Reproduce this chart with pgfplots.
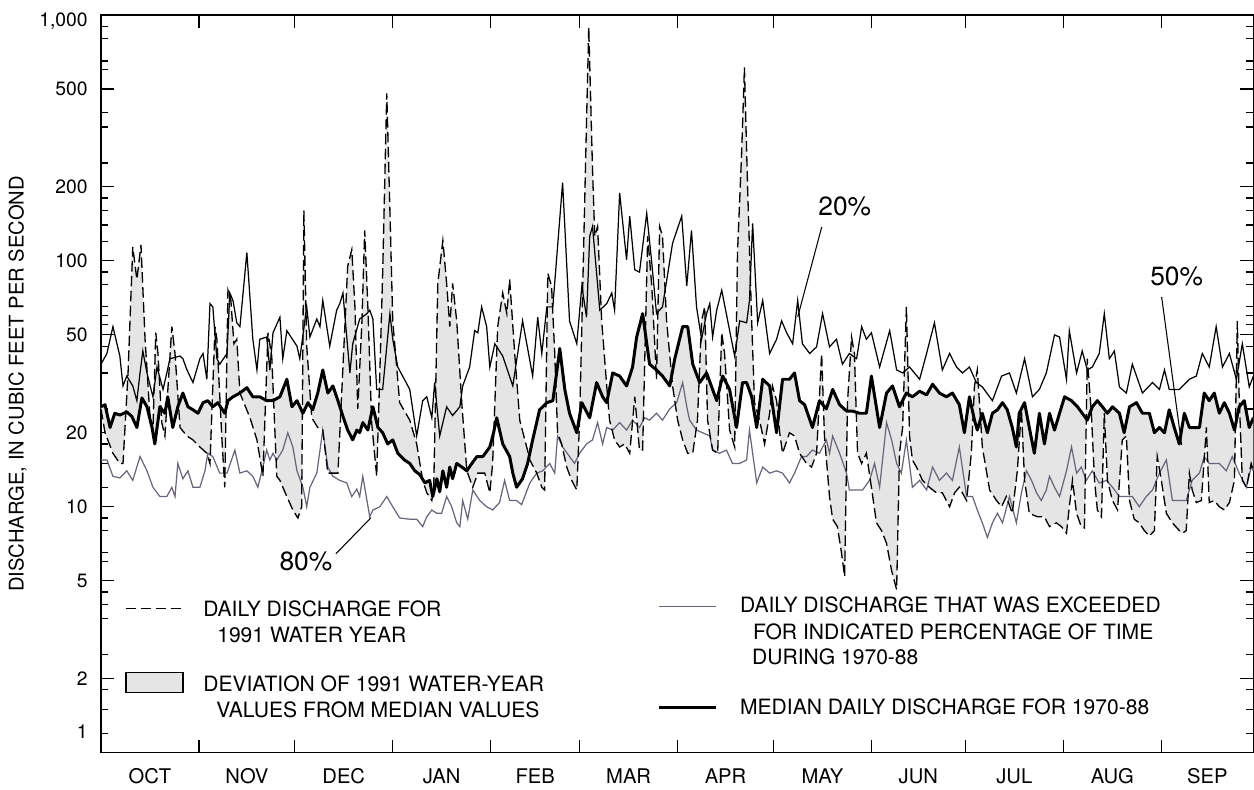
\documentclass[border=0pt]{standalone}
\usepackage{fontspec}
\setmainfont{TeX Gyre Heros}
\usepackage{pgfplots}
\usepackage{pgfplotstable}
\pgfplotsset{compat=1.18}
\definecolor{fillgray}{RGB}{229,229,229}
\definecolor{pctgray}{RGB}{108,100,122}

% day of water year (Oct 1 = 0), discharge in ft3/s
% 80 percent exceedance, 1970-88
\pgfplotstableread[row sep=\\]{
day q\\
0 15.5\\ 1.9 15.5\\ 3.8 13.3\\ 6 13.1\\ 8.2 14\\ 10.1 12.8\\ 12.4 16\\ 14.6 14\\ 16.5 12\\ 18.7 11\\
20.9 11\\ 22.5 12\\ 23.5 11\\ 24.4 15\\ 26 13\\ 27.6 14\\ 29.2 12\\ 31.4 12\\ 33 14\\ 33.9 16.5\\
35.5 16\\ 37.7 13.7\\ 40 13.7\\ 42.5 17\\ 44.1 13.7\\ 46.3 14\\ 48.2 13.3\\ 49.8 12\\ 51.4 14.5\\ 52.6 17\\
53.6 15.5\\ 54.6 16.5\\ 55.8 15.5\\ 57.7 17\\ 59.3 20\\ 60.9 17.5\\ 62.2 14\\ 64.1 12\\ 65.3 10\\ 66.3 12\\
68.5 13.7\\ 70.4 20.5\\ 72 14.5\\ 73.6 13.3\\ 75.8 12.8\\ 78 12.5\\ 79.6 11\\ 81.2 11.8\\ 82.1 11\\ 83.1 13.3\\
85.3 9.1\\ 86.3 9.7\\ 88.5 10\\ 90.7 11\\ 92.6 10\\ 94.8 9\\ 98 8.9\\ 100.2 8.9\\ 102.1 8.3\\ 103.4 9.1\\
105 9.7\\ 106.6 9.4\\ 108.1 9.4\\ 109.7 11\\ 111.3 10\\ 112.9 8.6\\ 113.9 8.3\\ 114.8 10.6\\ 116.4 8.9\\ 118 11.7\\
120.2 10.6\\ 122.4 10\\ 124.3 9.7\\ 126.5 10.4\\ 128.1 12.8\\ 129.7 10.6\\ 131.9 10.6\\ 133.5 10.2\\ 136.1 12.5\\ 138.3 13.7\\
140.2 14\\ 142.4 15\\ 144 13.7\\ 144.9 19.4\\ 146.5 17.5\\ 148.7 16\\ 150.3 15\\ 151.9 16.5\\ 154.1 18\\ 156 18.7\\
157.6 22\\ 159.2 18\\ 160.5 21\\ 162.4 20.5\\ 164.6 22\\ 166.8 20.5\\ 168.7 22.5\\ 170.9 21\\ 172.5 23\\ 174.1 22.5\\
176.3 24\\ 178.2 22.5\\ 180.5 25\\ 182.7 26.5\\ 184.6 32\\ 185.9 25.5\\ 186.8 22.5\\ 189 20.5\\ 190.9 20\\ 193.2 19.4\\
194.1 17\\ 196.3 16.5\\ 198.5 17\\ 200.4 15\\ 202.7 15\\ 204.9 15.5\\ 205.8 20.5\\ 208.1 12.5\\ 210 14.5\\ 212.2 13.7\\
214.4 14\\ 216.3 13.7\\ 218.5 12.5\\ 220.1 13.7\\ 222.3 16\\ 223.9 16\\ 225.8 17\\ 228 16.5\\ 230.2 18.7\\ 231.2 16.5\\
232.2 19.4\\ 234.4 16.5\\ 236.6 13.7\\ 237.5 11.7\\ 239.8 11.7\\ 241.7 11.7\\ 243.9 12.8\\ 245.5 15\\ 247.1 12\\ 249.3 22\\
250.9 18.7\\ 252.5 15\\ 254 13.7\\ 255.6 18.7\\ 257.5 12\\ 259.8 12.8\\ 262 11.7\\ 263.9 14.5\\ 266.1 12.8\\ 268.3 13.7\\
270.2 12.8\\ 272.4 17.5\\ 274.7 11\\ 276.6 11\\ 278.1 9.7\\ 279.7 8.6\\ 281.3 7.5\\ 282.9 8.6\\ 284.5 9.4\\ 286.1 8.6\\
288.3 11\\ 290.5 8.6\\ 292.1 11.4\\ 293.7 14\\ 295.3 12.8\\ 296.9 11.4\\ 298.4 10.6\\ 300 11.7\\ 301 13.3\\ 302.6 12\\
304.2 11\\ 306.4 14\\ 308 17.5\\ 309.6 13.7\\ 311.1 14.5\\ 312.7 12.8\\ 314.6 14\\ 316.8 12.5\\ 319.1 12.8\\ 321 12\\
323.2 11\\ 325.4 11\\ 327.3 11\\ 329.5 10\\ 331.7 11\\ 333.7 11.7\\ 335.9 13.7\\ 338.1 15.5\\ 340 10.6\\ 342.2 10.6\\
344.4 10.6\\ 346.3 12.8\\ 348.6 13.7\\ 350.1 16\\ 351.7 15\\ 354.9 15\\ 357.1 14\\ 359 16\\ 361.2 13.7\\ 363.5 12\\
365 14.5\\ 365.7 14\\
}\eighty

% 20 percent exceedance, 1970-88
\pgfplotstableread[row sep=\\]{
day q\\
0 38\\ 1.9 42\\ 2.9 48\\ 3.8 54\\ 6 41\\ 7 31\\ 8.2 34\\ 10.1 31\\ 11.4 27\\ 12.4 35\\
13.3 43\\ 14.6 35\\ 16.5 28\\ 17.8 37\\ 19.7 30\\ 20.9 35\\ 21.9 40\\ 25.1 41\\ 26 40\\ 27.3 36\\
29.2 32\\ 31.4 40\\ 32.4 42\\ 33.6 33\\ 34.6 67\\ 35.5 65\\ 36.8 40\\ 37.7 38\\ 40 42\\ 40.9 74\\
41.9 69\\ 43.1 56\\ 44.1 54\\ 46.3 108\\ 48.2 48\\ 49.5 36\\ 50.4 48\\ 52.6 49\\ 53.6 36\\ 54.6 51\\
56.8 59\\ 57.7 40\\ 59 52\\ 62.2 45\\ 63.1 40\\ 65.3 65\\ 66.3 49\\ 68.5 58\\ 69.5 54\\ 70.4 69\\
72.6 45\\ 74.8 63\\ 75.8 67\\ 76.8 74\\ 78 49\\ 79 35\\ 79.9 46\\ 82.1 58\\ 84.4 61\\ 85.3 63\\
86.3 58\\ 87.5 30\\ 89.4 30\\ 91.7 61\\ 92.6 48\\ 94.2 37\\ 98 30\\ 100.2 19.4\\ 102.1 27\\ 103.4 28\\
105 23\\ 105.9 32\\ 107.5 19.4\\ 109.7 25.5\\ 111.6 23.5\\ 113.9 25.5\\ 114.8 31\\ 117 37\\ 118.6 52\\ 119.6 51\\
120.8 65\\ 122.4 54\\ 123.4 37\\ 125 46\\ 127.5 41\\ 130.7 31\\ 133.8 57\\ 137 34\\ 138.6 59\\ 139.9 42\\
141.5 65\\ 143.4 65\\ 146.5 208\\ 148.7 57\\ 151 46\\ 152.6 79\\ 154.1 59\\ 155.1 126\\ 156 138\\ 158.3 63\\
160.5 67\\ 162.1 74\\ 163 63\\ 164.6 189\\ 166.8 101\\ 167.8 152\\ 169.4 92\\ 170.9 90\\ 173.2 156\\ 174.8 98\\
176.3 61\\ 178.2 65\\ 181.4 118\\ 184.3 152\\ 185.9 79\\ 187.4 133\\ 189 65\\ 190.6 48\\ 192.2 61\\ 193.2 67\\
194.1 49\\ 195.4 63\\ 197 76\\ 198.9 57\\ 201.1 41\\ 202.7 57\\ 204.9 56\\ 205.8 69\\ 206.8 142\\ 208.4 56\\
210 69\\ 212.2 42\\ 214.4 48\\ 216 57\\ 217.6 51\\ 219.5 46\\ 221.1 69\\ 222.6 46\\ 224.9 42\\ 227.1 44.7\\
229 61\\ 231.2 44.7\\ 233.4 48\\ 235.3 38\\ 237.5 42\\ 239.8 40\\ 241.4 54\\ 242.9 48\\ 244.5 51\\ 247.1 37\\
250.3 52\\ 252.5 36\\ 254.4 35\\ 256.6 37\\ 259.8 33\\ 262 42\\ 264.5 56\\ 267 36\\ 269.3 42\\ 271.5 37\\
273.4 35\\ 275.6 37\\ 277.8 32\\ 279.7 30.7\\ 282.9 27\\ 285.8 34\\ 288.3 35\\ 290.5 29\\ 293.1 40\\ 295.6 28\\
297.8 30\\ 300 35\\ 302.6 50\\ 304.2 49\\ 306.4 33\\ 307.3 52\\ 309.6 35\\ 311.4 43\\ 313 36\\ 314.6 37\\
316.8 42\\ 318.4 61\\ 320 40\\ 321.6 43\\ 323.2 30.7\\ 325.4 29\\ 327.3 38\\ 330.5 29\\ 333.7 32\\ 335.9 30\\
337.5 36\\ 339 30\\ 342.2 30\\ 345.4 33\\ 347.6 34\\ 349.5 42\\ 351.7 37\\ 353.9 54\\ 355.9 37\\ 358.1 42\\
360.3 33\\ 362.2 46\\ 364.4 30.7\\ 365.7 34\\
}\twenty

% daily discharge, 1991 water year
\pgfplotstableread[row sep=\\]{
day q\\
0 25\\ 1.3 20\\ 3.8 16.5\\ 6 15\\ 7 15\\ 8.6 35\\ 10.1 114\\ 11.4 84\\ 12.7 116\\ 14 48\\
15.5 24\\ 16.5 20.5\\ 17.4 51\\ 18.1 42\\ 19.3 22\\ 20.3 19.4\\ 22.5 54\\ 23.5 42\\ 25.1 21\\ 27.3 19.4\\
29.2 18.7\\ 31.4 17.5\\ 33.6 16.5\\ 34.6 15\\ 36.2 54\\ 36.8 48\\ 38.4 18.7\\ 39.3 12\\ 40.3 76\\ 41.2 70\\
42.2 46\\ 43.1 48\\ 44.1 29\\ 47.3 23\\ 49.5 18.7\\ 51.4 13.3\\ 53 51\\ 54.2 41\\ 55.8 13.3\\ 56.8 12.8\\
59 11\\ 60.9 9.7\\ 62.5 9\\ 63.7 10\\ 64.4 160\\ 65.3 45\\ 66.9 23\\ 68.8 21\\ 70.4 20.5\\ 72 13.7\\
73.6 13.7\\ 75.2 13.7\\ 77.4 54\\ 78.3 95\\ 79.6 111\\ 80.6 65\\ 81.5 25\\ 82.8 56\\ 83.7 133\\ 84.7 65\\
85.9 22\\ 87.5 13.3\\ 88.5 35\\ 89.4 89\\ 90.7 480\\ 91.7 160\\ 92.6 57\\ 94.8 26.5\\ 98 22.5\\ 100.2 18\\
102.1 12.8\\ 103.4 11.4\\ 105 10.6\\ 105.6 12\\ 106.9 81\\ 108.5 121\\ 109.7 81\\ 110.7 54\\ 111.6 81\\ 112.9 57\\
114.5 26.5\\ 116.1 14\\ 118 12\\ 119.6 13.7\\ 121.8 13.7\\ 123.4 11.4\\ 124.3 15\\ 125.9 54\\ 127.5 74\\ 128.8 61\\
129.7 84\\ 131.3 42\\ 132.9 22.5\\ 135.1 17.5\\ 136.1 15.5\\ 138.3 13.7\\ 139.9 12\\ 140.8 11.7\\ 141.8 89\\ 143 79\\
144 42\\ 144.9 20\\ 146.2 18\\ 147.8 14.5\\ 149.4 12.8\\ 151 11.7\\ 151.9 22.5\\ 152.9 79\\ 154.1 373\\ 154.8 890\\
156 234\\ 156.7 126\\ 157.6 138\\ 158.9 57\\ 160.5 31\\ 161.4 22.5\\ 163 18.7\\ 164.6 17.5\\ 166.2 18\\ 167.8 16.5\\
169.4 28\\ 170.9 17\\ 171.9 17\\ 173.5 126\\ 174.8 79\\ 176.3 33\\ 177.3 138\\ 178.2 126\\ 179.5 57\\ 181.4 31\\
183 22.5\\ 184.6 18.7\\ 186.2 16.5\\ 187.8 16.5\\ 189.3 22.5\\ 190.6 57\\ 191.6 65\\ 192.5 22.5\\ 194.1 17\\ 195.7 16.5\\
197 51\\ 197.9 42\\ 199.5 20.5\\ 201.1 17.5\\ 202 108\\ 203.3 272\\ 204.2 612\\ 205.2 200\\ 206.5 57\\ 207.4 26.5\\
209 22.5\\ 210.6 18\\ 212.2 24\\ 213.1 31\\ 214.4 27\\ 215.4 20\\ 216.3 16.5\\ 218.5 20\\ 220.1 19.4\\ 221.7 16.5\\
223.9 15\\ 225.5 14.5\\ 227.1 16.5\\ 228.7 42\\ 229.6 19.4\\ 231.2 11\\ 232.2 8.9\\ 233.7 8.3\\ 235 6.5\\ 236 5.2\\
236.9 26.5\\ 238.2 49\\ 239.1 42\\ 240.1 16.5\\ 241.4 15\\ 242.9 16.5\\ 244.5 12\\ 246.1 8.6\\ 247.7 8\\ 249.3 7.1\\
250.9 5.5\\ 252.5 4.6\\ 253.4 16.5\\ 254.4 21\\ 255.6 65\\ 256.6 19.4\\ 257.5 15.5\\ 258.8 14.5\\ 260.7 12.8\\ 262.9 12\\
265.1 11.4\\ 267 11.4\\ 269.3 10\\ 270.9 11.4\\ 272.4 12\\ 274.7 10.6\\ 276.2 16.5\\ 277.2 31\\ 278.1 36\\ 279.7 17.5\\
282 11.7\\ 284.2 10.6\\ 285.8 10\\ 287.3 11\\ 289.2 9.4\\ 290.8 14\\ 292.1 24.8\\ 293.1 12.8\\ 294.6 9.4\\ 297.2 9.1\\
299.4 9.1\\ 301 8.3\\ 303.2 8.6\\ 304.8 8.3\\ 306.4 7.8\\ 307.3 10\\ 308.3 12.8\\ 309.6 9.4\\ 311.1 8.3\\ 312.1 8.2\\
313 40\\ 314.3 24\\ 315.3 12.8\\ 316.2 9.7\\ 317.5 9.1\\ 318.4 24\\ 319.4 12.8\\ 321 10.6\\ 322.6 9.7\\ 324.1 18.7\\
325.4 19.4\\ 326.4 10.6\\ 327.9 8.9\\ 329.5 8.6\\ 331.1 8\\ 332.7 7.6\\ 334.3 8\\ 335.2 16\\ 336.5 12.8\\ 338.1 9.4\\
340 8.6\\ 342.2 8\\ 343.2 7.8\\ 344.4 8\\ 345.4 13.7\\ 346.3 11.7\\ 347.6 10.4\\ 349.2 10.6\\ 350.8 21\\ 351.7 10.4\\
353.3 10.6\\ 354.9 10\\ 356.5 9.7\\ 358.1 10.4\\ 359.7 12.8\\ 360.6 57\\ 361.2 28\\ 362.2 12.8\\ 363.5 12\\ 365 15\\
365.7 14\\
}\daily

% median daily discharge, 1970-88
\pgfplotstableread[row sep=\\]{
day q\\
0 25.5\\ 1.3 26\\ 2.9 21\\ 4.4 24\\ 6 23.6\\ 8.2 24.3\\ 9.8 23.3\\ 11.4 21\\ 13 27.7\\ 14.6 25.5\\
16.2 21\\ 17.1 18\\ 18.7 25.5\\ 20.3 24\\ 21.2 28\\ 22.8 21\\ 24.4 25.5\\ 26 29\\ 27.6 25.5\\ 29.2 24.8\\
30.8 24\\ 32.4 26.5\\ 33.9 27\\ 35.5 25.5\\ 37.1 26.5\\ 39.3 24\\ 40.3 27\\ 41.9 28\\ 44.1 29\\ 46.3 30.5\\
48.2 28\\ 50.4 28\\ 52.6 27\\ 54.6 27\\ 56.8 28\\ 59 33\\ 60.6 25.5\\ 62.2 27\\ 64.1 24\\ 65.7 26.5\\
67.2 24.8\\ 68.8 29\\ 70.4 36\\ 72 29\\ 73.6 31\\ 75.2 27\\ 76.8 23.3\\ 78.3 20.5\\ 79.9 18.7\\ 81.2 20.5\\
82.1 20\\ 83.1 22\\ 84.7 20.5\\ 86.3 25.5\\ 87.9 21\\ 89.4 20\\ 91 18\\ 92.6 18.7\\ 94.2 16.5\\ 96.3 15.5\\
98 15\\ 99.6 14\\ 101.2 13.5\\ 102.8 12.5\\ 104.3 12.8\\ 105.3 11\\ 106.6 13\\ 107.5 11.5\\ 108.5 14\\ 109.7 12\\
110.7 14.5\\ 111.6 13\\ 112.9 15\\ 114.5 14.5\\ 116.1 14\\ 117.7 15\\ 119.3 16\\ 121.2 16\\ 123.4 17.5\\ 124.6 20\\
125.6 23\\ 127.5 18\\ 129.7 16\\ 130.7 13.7\\ 131.9 12\\ 133.8 13\\ 135.4 15\\ 137 18.7\\ 139.2 24.8\\ 141.5 26.5\\
143.4 27\\ 144.6 35\\ 145.6 44\\ 147.2 30\\ 148.7 24\\ 151 20\\ 152.6 26.5\\ 155.1 23\\ 157.3 32\\ 159.2 28\\
160.5 26.5\\ 162.4 35\\ 164.6 34\\ 166.8 31\\ 168.7 37\\ 170 49\\ 171.9 61\\ 174.1 38\\ 176.3 36\\ 178.2 34\\
180.5 31\\ 182.1 40\\ 184.6 54\\ 186.2 54\\ 187.8 38\\ 190 32\\ 192.2 35\\ 194.1 30\\ 195.4 27\\ 197.3 34\\
199.5 30\\ 201.7 21\\ 203.6 32\\ 204.9 32\\ 206.5 28\\ 208.1 21\\ 210 33\\ 212.2 31\\ 214.4 20\\ 216.3 33\\
218.5 33\\ 220.1 35\\ 221.7 27\\ 223.3 26\\ 225.8 21\\ 228 27\\ 230.2 25\\ 232.2 30\\ 234.4 26\\ 236.6 24.5\\
238.5 24.5\\ 240.7 24\\ 242.9 24\\ 244.5 34\\ 247.1 21\\ 249.3 29\\ 251.2 31\\ 253.4 25.5\\ 255.6 29\\ 257.5 28\\
259.8 29.5\\ 262 28.5\\ 263.9 31.5\\ 266.1 29\\ 268.3 28\\ 270.2 29\\ 272.4 26\\ 274 20\\ 275.6 28\\ 277.2 22.5\\
278.1 20.5\\ 279.7 24\\ 281.3 20\\ 282.9 24\\ 284.5 24.8\\ 286.1 26.5\\ 287.6 24.8\\ 289.2 21\\ 290.5 17.5\\ 291.4 24\\
293.1 26.5\\ 294.6 21\\ 296.2 16.5\\ 297.8 24\\ 299.4 18\\ 301 24\\ 302.6 20.5\\ 304.2 24\\ 305.8 28\\ 308 27\\
309.9 25.5\\ 311.4 24\\ 313 22.5\\ 314.6 25.5\\ 316.2 27\\ 317.8 25.5\\ 319.4 24\\ 321 25.5\\ 323.2 24\\ 324.7 20\\
326.4 25.5\\ 328.6 26.5\\ 330.5 24\\ 332.7 24\\ 334.3 20\\ 335.9 21\\ 337.5 20\\ 339 24.8\\ 340.6 21\\ 342.2 18\\
343.8 24\\ 345.4 21\\ 347 21\\ 348.6 21\\ 350.1 29\\ 351.7 27\\ 353.3 29\\ 354.9 24\\ 356.5 26.5\\ 358.1 24\\
359.7 20.5\\ 361.2 25.5\\ 362.8 27\\ 364.4 21\\ 365.7 23\\
}\median

% outline of the shaded deviation: daily values forward, median values backward
\pgfplotstablevertcat{\deviation}{\daily}
\pgfplotstablesort[sort key=day, sort cmp=float >]{\medianrev}{\median}
\pgfplotstablevertcat{\deviation}{\medianrev}

\begin{document}
\begin{tikzpicture}
\begin{axis}[
  at={(2.02cm,0.68cm)}, anchor=south west,
  scale only axis, width=23.06cm, height=14.76cm,
  xmin=0, xmax=365.7, ymin=1, ymax=1000, ymode=log,
  axis line style={line width=0.75pt},
  tick style={black, line width=0.7pt},
  tick align=inside,
  major tick length=0.26cm, minor tick length=0.15cm,
  xtick={0,31.1,61.5,92.6,123.7,151.9,183,213.4,244.5,274.3,305.4,336.5,365.7},
  x tick label as interval,
  xticklabels={OCT,NOV,DEC,JAN,FEB,MAR,APR,MAY,JUN,JUL,AUG,SEP},
  xticklabel style={font=\fontsize{11.5}{13}\selectfont, anchor=base, yshift=-0.62cm},
  ytick={1,2,5,10,20,50,100,200,500,1000},
  yticklabels={{\raisebox{0.42cm}{1}},2,5,10,20,50,100,200,500,{\raisebox{-0.1cm}{1,000}}},
  yticklabel style={font=\fontsize{11}{13}\selectfont, anchor=base east, inner sep=0pt, xshift=-0.26cm, yshift=-0.14cm},
  minor ytick={1.2,1.5,1.8,2.5,3.5,4,4.5,6,6.5,8,9,
               12,15,18,25,35,45,55,60,65,80,90,
               120,140,160,180,250,350,400,600,650,800,900},
]
\addplot[fill=fillgray, draw=none, forget plot] table[x=day, y=q] {\deviation};
\addplot[draw=pctgray, line width=0.7pt] table[x=day, y=q] {\eighty};
\addplot[black, line width=0.7pt] table[x=day, y=q] {\twenty};
\addplot[black, line width=0.75pt, dash pattern=on 6pt off 2.5pt] table[x=day, y=q] {\daily};
\addplot[black, line width=1.7pt, line join=round] table[x=day, y=q] {\median};
\end{axis}

\begin{scope}[shift={(0,15.74cm)}, x=0.02cm, y=-0.02cm,
  lt/.style={anchor=base west, inner sep=0pt, font=\fontsize{12}{14}\selectfont},
  pct/.style={inner sep=0pt, font=\fontsize{15}{17}\selectfont}]
  \node[rotate=90, inner sep=0pt, font=\fontsize{11.5}{13}\selectfont] at (17.5,384) {DISCHARGE, IN CUBIC FEET PER SECOND};
  % percentage call-outs
  \node[pct] at (845,206) {20\%};
  \draw[line width=0.6pt] (822,227) -- (798,317);
  \node[pct] at (1177,277) {50\%};
  \draw[line width=0.6pt] (1162,297) -- (1182,445);
  \node[pct] at (306,562) {80\%};
  \draw[line width=0.6pt] (336,554) -- (371,518);
  % explanation
  \draw[line width=0.75pt, dash pattern=on 6pt off 2.5pt] (126,609) -- (183,609);
  \node[lt] at (203,617) {DAILY DISCHARGE FOR};
  \node[lt] at (217,643) {1991 WATER YEAR};
  \draw[line width=0.7pt, fill=fillgray] (126,673) rectangle (183,693);
  \node[lt] at (203,692) {DEVIATION OF 1991 WATER-YEAR};
  \node[lt] at (216,718) {VALUES FROM MEDIAN VALUES};
  \draw[line width=0.7pt, pctgray] (659,607) -- (716,607);
  \node[lt] at (740,613) {DAILY DISCHARGE THAT WAS EXCEEDED};
  \node[lt] at (753,640) {FOR INDICATED PERCENTAGE OF TIME};
  \node[lt] at (752,665) {DURING 1970-88};
  \draw[line width=1.7pt] (659,708) -- (716,708);
  \node[lt] at (740,715) {MEDIAN DAILY DISCHARGE FOR 1970-88};
  \path (0,0) rectangle (1254,787);
\end{scope}
\end{tikzpicture}
\end{document}
